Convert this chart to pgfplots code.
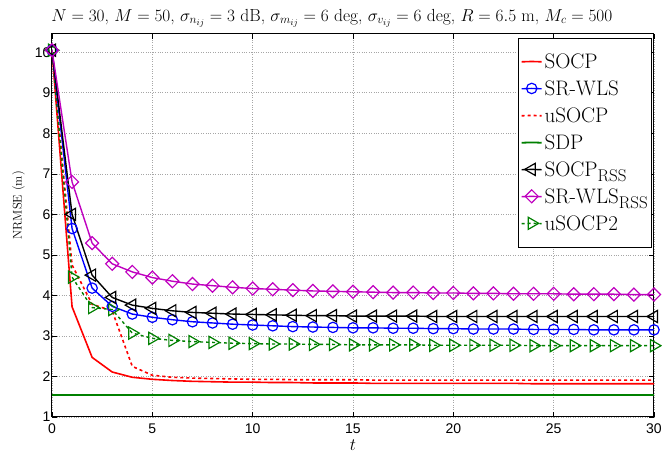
\documentclass[border=0pt]{standalone}
\usepackage{fontspec}
\usepackage{pgfplots}
\usepackage{pgfplotstable}
\pgfplotsset{compat=1.18}
\newfontfamily\tickfont{Liberation Sans}
\definecolor{mgreen}{RGB}{0,128,0}
\definecolor{mmag}{RGB}{191,0,191}
\definecolor{mred}{RGB}{255,0,0}
\definecolor{mblue}{RGB}{0,0,255}
\newcommand{\rss}{\raisebox{-0.55ex}{\fontsize{17}{17}\selectfont RSS}}

\pgfplotstableread{
t socp usocp srwls socprss srwlsrss usocptwo sdp
0 10.05 10.05 10.05 10.05 10.05 10.05 1.54
1 3.72 4.75 5.65 6.00 6.80 4.45 1.54
2 2.47 3.78 4.18 4.50 5.29 3.70 1.54
3 2.11 3.62 3.73 3.95 4.78 3.65 1.54
4 1.98 2.25 3.54 3.76 4.58 3.07 1.54
5 1.93 2.03 3.46 3.68 4.44 2.94 1.54
6 1.90 1.98 3.40 3.62 4.35 2.89 1.54
7 1.88 1.96 3.35 3.58 4.28 2.86 1.54
8 1.87 1.95 3.32 3.56 4.24 2.84 1.54
9 1.86 1.94 3.29 3.54 4.20 2.82 1.54
10 1.86 1.93 3.27 3.53 4.17 2.81 1.54
11 1.85 1.93 3.25 3.52 4.15 2.80 1.54
12 1.85 1.92 3.23 3.51 4.13 2.80 1.54
13 1.84 1.92 3.22 3.50 4.11 2.79 1.54
14 1.84 1.92 3.21 3.50 4.10 2.79 1.54
15 1.84 1.92 3.20 3.49 4.09 2.78 1.54
16 1.83 1.91 3.20 3.49 4.08 2.78 1.54
17 1.83 1.91 3.19 3.49 4.07 2.78 1.54
18 1.83 1.91 3.19 3.49 4.07 2.78 1.54
19 1.83 1.91 3.18 3.48 4.06 2.77 1.54
20 1.83 1.91 3.18 3.48 4.06 2.77 1.54
21 1.83 1.91 3.17 3.48 4.05 2.77 1.54
22 1.83 1.91 3.17 3.48 4.05 2.77 1.54
23 1.83 1.91 3.17 3.48 4.04 2.77 1.54
24 1.82 1.91 3.16 3.48 4.04 2.76 1.54
25 1.82 1.91 3.16 3.48 4.04 2.76 1.54
26 1.82 1.91 3.16 3.48 4.03 2.76 1.54
27 1.82 1.91 3.15 3.48 4.03 2.76 1.54
28 1.82 1.91 3.15 3.48 4.03 2.76 1.54
29 1.82 1.91 3.15 3.48 4.02 2.76 1.54
30 1.82 1.91 3.15 3.48 4.02 2.76 1.54
}\datatab

\pgfplotsset{
  sSOCP/.style={draw=mred, color=mred, solid, no markers, line width=1.6pt},
  sSRWLS/.style={draw=mblue, color=mblue, solid, mark=o, mark size=5.2pt, mark options={solid, draw=mblue, line width=1.2pt}, line width=1.4pt},
  sUSOCP/.style={draw=mred, color=mred, dashed, no markers, line width=1.6pt},
  sSDP/.style={draw=mgreen, color=mgreen, solid, no markers, line width=1.8pt},
  sSOCPRSS/.style={draw=black, color=black, solid, mark=triangle, mark size=7pt, mark options={solid, draw=black, rotate=90, line width=1.2pt}, line width=1.4pt},
  sSRWLSRSS/.style={draw=mmag, color=mmag, solid, mark=square, mark size=4.6pt, mark options={solid, draw=mmag, rotate=45, line width=1.2pt}, line width=1.4pt},
  sUSOCPT/.style={draw=mgreen, color=mgreen, dashed, mark=triangle, mark size=7pt, mark options={solid, draw=mgreen, rotate=-90, line width=1.2pt}, line width=1.4pt},
}

\begin{document}
\begin{tikzpicture}
\useasboundingbox (-52pt,-40pt) rectangle (610pt,417pt);
\begin{axis}[
  at={(0pt,0pt)}, anchor=south west,
  scale only axis,
  width=602pt, height=383pt,
  xmin=0, xmax=30, ymin=1, ymax=10.45,
  xtick={0,5,...,30}, ytick={1,2,...,10},
  grid=major,
  major grid style={dotted, gray!70, line width=0.6pt},
  axis line style={line width=1pt},
  tick style={black, line width=0.6pt},
  major tick length=5pt,
  /pgf/number format/assume math mode=true,
  tick label style={font=\tickfont\fontsize{14}{14}\selectfont},
  yticklabel style={xshift=2pt},
  xticklabel style={yshift=-3pt},
  xlabel={$t$},
  xlabel style={font=\fontsize{18}{18}\selectfont, at={(axis description cs:0.5,0)}, anchor=base, yshift=-34pt},
  ylabel={NRMSE (m)},
  ylabel style={font=\fontsize{12.5}{12.5}\selectfont, at={(axis description cs:-0.0556,0.553)}, anchor=center},
  title={$N=30$, $M=50$, $\sigma_{n_{ij}}=3$ dB, $\sigma_{m_{ij}}=6$ deg, $\sigma_{v_{ij}}=6$ deg, $R=6.5$ m, $M_c=500$},
  title style={font=\fontsize{17.5}{17.5}\selectfont, at={(0.465,1)}, yshift=-3pt},
  legend style={at={(0.997,0.99)}, anchor=north east, font=\fontsize{21}{21}\selectfont,
     draw=black, line width=0.8pt, inner xsep=2pt, inner ysep=13.5pt, row sep=6.8pt,
     /tikz/every even column/.append style={column sep=1pt}},
  legend cell align=left,
  legend image code/.code={\draw[mark repeat=2, mark phase=2, #1] plot coordinates {(0pt,0pt) (10pt,0.35pt) (20pt,0pt)};},
]
\addplot[sSOCP, forget plot] table[x=t, y=socp] {\datatab};
\addplot[sUSOCP, forget plot] table[x=t, y=usocp] {\datatab};
\addplot[sSDP, forget plot] table[x=t, y=sdp] {\datatab};
\addplot[sUSOCPT, forget plot] table[x=t, y=usocptwo] {\datatab};
\addplot[sSRWLS, forget plot] table[x=t, y=srwls] {\datatab};
\addplot[sSOCPRSS, forget plot] table[x=t, y=socprss] {\datatab};
\addplot[sSRWLSRSS, forget plot] table[x=t, y=srwlsrss] {\datatab};
\addlegendimage{sSOCP}
\addlegendentry{SOCP}
\addlegendimage{sSRWLS}
\addlegendentry{SR-WLS}
\addlegendimage{sUSOCP}
\addlegendentry{uSOCP}
\addlegendimage{sSDP}
\addlegendentry{SDP}
\addlegendimage{sSOCPRSS}
\addlegendentry{SOCP\rss}
\addlegendimage{sSRWLSRSS}
\addlegendentry{SR-WLS\rss}
\addlegendimage{sUSOCPT}
\addlegendentry{uSOCP2}
\end{axis}
\end{tikzpicture}
\end{document}
